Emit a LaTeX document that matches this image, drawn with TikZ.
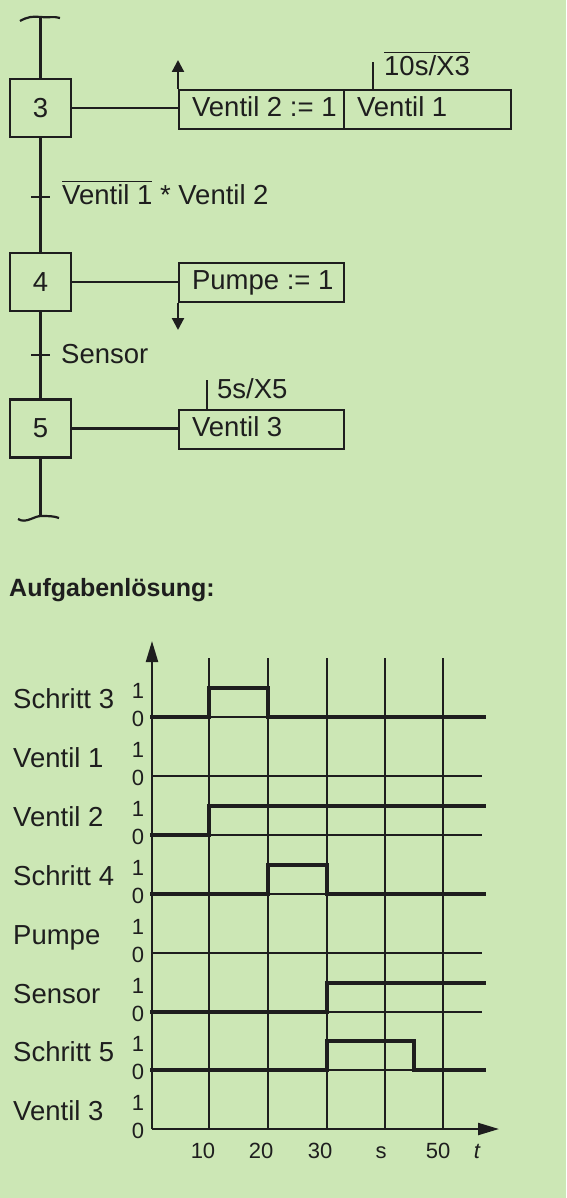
\documentclass[tikz,border=0pt]{standalone}
\usepackage{fontspec}
\setmainfont{Liberation Sans}
\usetikzlibrary{arrows.meta}
\definecolor{bg}{RGB}{204,231,181}
\definecolor{ink}{RGB}{30,30,30}
\newcommand\ovl[1]{\setbox0\hbox{#1}\rlap{\rule[0.82em]{\wd0}{1.5pt}}\box0\relax}
\tikzset{
  stepbox/.style={draw=ink, line width=2.2pt, minimum width=61pt, minimum height=58pt,
    inner sep=0pt, font=\fontsize{27.5}{30}\selectfont, text=ink},
  actbox/.style={draw=ink, line width=2.2pt, minimum height=39pt, inner xsep=13pt,
    inner ysep=0pt, text height=19pt, text depth=5pt,
    font=\fontsize{27.5}{30}\selectfont, text=ink, anchor=north west},
  conn/.style={draw=ink, line width=2.2pt},
  lbl/.style={inner sep=0pt, font=\fontsize{27.5}{30}\selectfont, text=ink},
  digit/.style={inner sep=0pt, font=\fontsize{22}{24}\selectfont, text=ink},
  gridline/.style={draw=ink, line width=1.3pt},
  sig/.style={draw=ink, line width=3.6pt, line join=miter, line cap=rect},
  axis/.style={draw=ink, line width=2.2pt},
  smallarr/.style={-{Triangle[length=12pt,width=12pt]}},
  bigarr/.style={-{Triangle[length=21pt,width=12pt]}}
}
\begin{document}
\begin{tikzpicture}[x=1pt,y=-1pt]
\path[use as bounding box, fill=bg] (0,0) rectangle (566,1198);

% ---------- GRAFCET ----------
\node[stepbox] (s3) at (40.5,108) {3};
\node[stepbox] (s4) at (40.5,282) {4};
\node[stepbox] (s5) at (40.5,428.5) {5};

\coordinate (top) at (40.5,18);
\coordinate (bot) at (40.5,516);
\draw[conn] (top) -- (s3.north);
\draw[conn] (s3.south) -- (s4.north);
\draw[conn] (s4.south) -- (s5.north);
\draw[conn] (s5.south) -- (bot);
\draw[draw=ink, line width=2.2pt] (20,21) .. controls (27,17) and (33,16) .. (40.5,17) .. controls (48,18) and (54,16) .. (60,18);
\draw[draw=ink, line width=2.2pt] (18,519) .. controls (26,524) and (34,516) .. (41,516) .. controls (48,516) and (54,516) .. (59,518);

% transitions
\draw[conn] (31,197) -- (50,197);
\node[lbl, anchor=base west] (tr34) at (62,205) {\ovl{Ventil 1} * Ventil 2};
\draw[conn] (31,355) -- (50,355);
\node[lbl, anchor=base west] (tr45) at (61,363) {Sensor};

% actions step 3
\node[actbox, minimum width=165pt] (a3a) at (178,89) {\makebox[139pt][l]{Ventil 2 := 1}};
\node[actbox, minimum width=167pt] (a3b) at (343,89) {\makebox[141pt][l]{Ventil 1}};
\draw[conn] (s3.east) -- (s3.east -| a3a.west);
\coordinate (up3) at (178,60);
\draw[conn, smallarr] (a3a.north west) -- (up3);
\draw[conn] ([xshift=30pt]a3b.north west) -- ++(0,-27);
\node[lbl, anchor=base west] (t3) at (384,76) {\ovl{10s/X3}};

% actions step 4
\node[actbox, minimum width=165pt] (a4) at (178,262) {\makebox[139pt][l]{Pumpe := 1}};
\draw[conn] (s4.east) -- (s4.east -| a4.west);
\coordinate (dn4) at (178,330);
\draw[conn, smallarr] (a4.south west) -- (dn4);

% actions step 5
\node[actbox, minimum width=165pt] (a5) at (178,409) {\makebox[139pt][l]{Ventil 3}};
\draw[conn] (s5.east) -- (s5.east -| a5.west);
\draw[conn] ([xshift=29pt]a5.north west) -- ++(0,-29);
\node[lbl, anchor=base west] (t5) at (217,398) {5s/X5};

% ---------- Aufgabenloesung ----------
\node[anchor=base west, inner sep=0pt, text=ink, font=\bfseries\fontsize{25}{28}\selectfont] (head) at (9,596) {Aufgabenlösung:};

% ---------- timing diagram ----------
\foreach \x in {209,268,327,385,443}
  \draw[gridline] (\x,658) -- (\x,1129);
\foreach \y in {717,776,835,894,953,1012,1070}
  \draw[gridline] (152,\y) -- (482,\y);

\foreach \nm/\y [count=\i] in {Schritt 3/717,Ventil 1/776,Ventil 2/835,Schritt 4/894,Pumpe/953,Sensor/1012,Schritt 5/1070,Ventil 3/1129}{
  \node[lbl, anchor=base west] (row\i) at (13,\y-9) {\nm};
  \node[digit, anchor=base] (one\i) at (138,\y-19) {1};
  \node[digit, anchor=base] (zero\i) at (138,\y+9) {0};
}

\coordinate (O) at (152,1129);
\coordinate (ytip) at (152,641);
\coordinate (xtip) at (499,1129);
\draw[axis, bigarr] (O) -- (ytip);
\draw[axis, bigarr] (O) -- (xtip);

% signals
\draw[sig] (152,717) -- (209,717) -- (209,688) -- (268,688) -- (268,717) -- (484,717);
\draw[sig] (152,835) -- (209,835) -- (209,806) -- (484,806);
\draw[sig] (152,894) -- (268,894) -- (268,865) -- (327,865) -- (327,894) -- (484,894);
\draw[sig] (152,1012) -- (327,1012) -- (327,983) -- (484,983);
\draw[sig] (152,1070) -- (327,1070) -- (327,1041) -- (414,1041) -- (414,1070) -- (484,1070);

% tick labels
\node[digit, anchor=base] (l10) at (203,1158) {10};
\node[digit, anchor=base] (l20) at (261,1158) {20};
\node[digit, anchor=base] (l30) at (320,1158) {30};
\node[digit, anchor=base] (ls) at (381,1158) {s};
\node[digit, anchor=base] (l50) at (438,1158) {50};
\node[digit, anchor=base] (lt) at (477,1158) {\itshape t};
\end{tikzpicture}
\end{document}
